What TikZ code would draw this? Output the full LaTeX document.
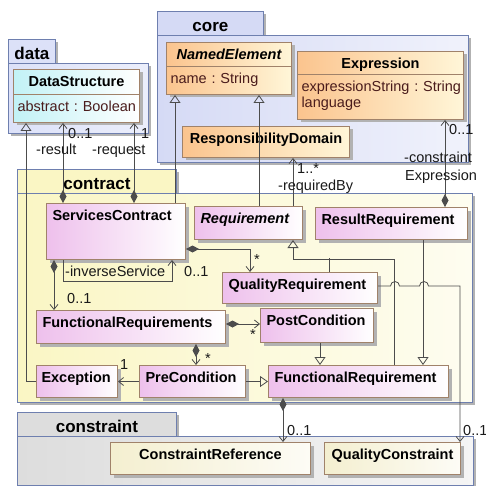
\documentclass[tikz,border=0pt]{standalone}
\usepackage{fontspec}
\setmainfont{Liberation Sans}
\usetikzlibrary{arrows.meta}
\usetikzlibrary{shadows}
\newcommand*{\umlfont}{\fontsize{14.5}{16}\selectfont}
\newcommand*{\pkgfont}{\fontsize{17}{20}\selectfont\bfseries}

\definecolor{pkgline}{HTML}{6E7FAF}
\definecolor{clsline}{HTML}{A0826A}
\definecolor{wire}{HTML}{4C4C4C}
\definecolor{datafill}{HTML}{DCE1F8}
\definecolor{corefill}{HTML}{D5DAF5}
\definecolor{ctrfill}{HTML}{FAF6C4}
\definecolor{cstfill}{HTML}{DDDDDD}
\definecolor{clspink}{HTML}{EEC0EC}
\definecolor{clsorange}{HTML}{FBC48E}
\definecolor{clsorangeend}{HTML}{FFF6D8}
\definecolor{clscyan}{HTML}{C2F2F6}
\definecolor{clscream}{HTML}{F4EFD0}
\definecolor{attrtext}{HTML}{4A1C1C}

\begin{document}
\begin{tikzpicture}[x=1pt,y=-1pt]
\tikzset{boxshadow/.style={drop shadow={shadow xshift=3pt,shadow yshift=-3pt,fill=black!30,opacity=1}},
  pkgtab/.style={draw=pkgline,line width=0.8pt,anchor=north west,inner sep=0pt,text height=20pt,text depth=4pt,font=\pkgfont,boxshadow},
  pkgbody/.style={draw=pkgline,line width=0.8pt,anchor=north west,inner sep=0pt,boxshadow},
  cls/.style={draw=clsline,line width=1pt,anchor=north west,inner xsep=6pt,inner ysep=0pt,text height=17pt,font=\umlfont\bfseries,boxshadow},
  ctrcls/.style={cls,left color=clspink,right color=white,align=left},
  corecls/.style={cls,left color=clsorange,right color=clsorangeend,align=center},
  coreattr/.style={corecls,inner xsep=4pt,font=\umlfont,text=attrtext,align=left},
  datacls/.style={cls,left color=clscyan,right color=white,align=center},
  dataattr/.style={datacls,inner xsep=4pt,font=\umlfont,text=attrtext,align=left},
  cstcls/.style={cls,left color=clscream,right color=clscream!20!white,align=center},
  wire/.style={draw=wire,line width=0.8pt},
  assoc/.style={wire,-{Straight Barb[length=5pt,width=8pt]}},
  gen/.style={wire,-{Triangle[open,length=8pt,width=11pt]}},
  comp/.style={wire,{Diamond[length=13pt,width=7pt]}-{Straight Barb[length=5pt,width=8pt]}},
  lbl/.style={anchor=base west,inner sep=0pt,font=\umlfont,text=black!90}}

\useasboundingbox (0,0) rectangle (486,486);

% packages
\node[pkgtab,fill=datafill,minimum width=47pt] (datatab) at (8,39) {data};
\node[pkgbody,left color=datafill,right color=datafill!55!white,minimum width=140pt,minimum height=70pt] (data) at (8,63) {};
\node[pkgtab,fill=corefill,minimum width=106pt] (coretab) at (157,11) {core};
\node[pkgbody,left color=corefill,right color=corefill!35!white,minimum width=311pt,minimum height=127pt] (core) at (157,35) {};
\node[pkgtab,fill=ctrfill,minimum width=159pt] (ctrtab) at (17,169) {contract};
\node[pkgbody,left color=ctrfill,right color=ctrfill!25!white,minimum width=455pt,minimum height=209pt] (contract) at (17,193) {};
\node[pkgtab,fill=cstfill,minimum width=159pt] (csttab) at (17,412) {constraint};
\node[pkgbody,left color=cstfill,right color=cstfill!30!white,minimum width=456pt,minimum height=49pt] (constraint) at (17,436) {};

% data and core classes
\node[datacls,text width=114pt,text depth=8pt] (ds) at (13,69) {DataStructure};
\node[dataattr,text width=118pt,text depth=11pt] (dsattr) at (13,94) {abstract~:~Boolean};
\node[corecls,text width=113pt,text depth=7pt,font=\umlfont\bfseries\itshape] (ne) at (166,42) {NamedElement};
\node[coreattr,text width=117pt,text depth=11pt] (neattr) at (166,66) {name~:~String};
\node[corecls,text width=154pt,text depth=6pt] (ex) at (297,51) {Expression};
\node[coreattr,text width=158pt,text depth=28pt] (exattr) at (297,74) {expressionString~:~String\\language};
\node[corecls,text width=155pt,text depth=14pt] (rd) at (182,126) {ResponsibilityDomain};

% contract classes
\node[ctrcls,text width=127pt,text depth=39pt] (sc) at (46,203) {ServicesContract};
\node[ctrcls,text width=96pt,text depth=16pt,font=\umlfont\bfseries\itshape] (req) at (194,206) {Requirement};
\node[ctrcls,text width=140pt,text depth=15pt] (rr) at (315,207) {ResultRequirement};
\node[ctrcls,text width=143pt,text depth=14pt] (qr) at (222,272) {QualityRequirement};
\node[ctrcls,text width=177pt,text depth=16pt] (frs) at (36,310) {FunctionalRequirements};
\node[ctrcls,text width=101pt,text depth=17pt] (pc) at (260,308) {PostCondition};
\node[ctrcls,inner xsep=5pt,text width=71pt,text depth=15pt] (exc) at (36,365) {Exception};
\node[ctrcls,text width=94pt,text depth=15pt] (prc) at (139,365) {PreCondition};
\node[ctrcls,text width=168pt,text depth=15pt] (fr) at (268,365) {FunctionalRequirement};

% constraint classes
\node[cstcls,text width=188pt,text depth=15pt] (cr) at (110,442) {ConstraintReference};
\node[cstcls,text width=124pt,text depth=15pt] (qc) at (324,442) {QualityConstraint};

% relations
\draw[gen] (exc.west) -| ([xshift=13pt]dsattr.south west);
\draw[comp] ([xshift=17pt]sc.north west) -- ([xshift=50pt]dsattr.south west);
\draw[comp] ([xshift=88pt]sc.north west) -- ([xshift=121pt]dsattr.south west);
\draw[gen] ([xshift=129pt]sc.north west) -- ([xshift=9pt]neattr.south west);
\draw[gen] ([xshift=65pt]req.north west) -- ([xshift=93pt]neattr.south west);
\draw[assoc] ([xshift=99pt]req.north west) -- ([xshift=111pt]rd.south west);
\draw[comp] ([xshift=130pt]rr.north west) -- ([xshift=148pt]exattr.south west);
\draw[assoc] ([xshift=17pt]sc.south west) -- ++(0,21) -| ([xshift=126pt]sc.south west);
\draw[comp] ([xshift=8pt]sc.south west) -- ([xshift=18pt]frs.north west);
\draw[comp] ([yshift=-46pt]sc.north east) -| ([xshift=28pt]qr.north west);
\draw[comp] ([yshift=3pt]frs.east) -- ([yshift=3pt]frs.east -| pc.west);
\draw[comp] ([xshift=160pt]frs.south west) -- ([xshift=57pt]prc.north west);
\draw[assoc] (prc.west) -- (exc.east);
\draw[gen] (prc.east) -- (fr.west);
\draw[gen] ([xshift=60pt]pc.south west) -- ([xshift=52pt]fr.north west);
\draw[gen] ([xshift=108pt]rr.south west) -- ([xshift=155pt]fr.north west);
\draw[gen] ([xshift=126pt]fr.north west) |- ([xshift=99pt,yshift=-19pt]req.south west) -- ([xshift=99pt]req.south west);
\draw[wire] ([xshift=107pt]qr.north west) -- ++(0,-14);
\draw[assoc] ([yshift=2pt]qr.east) -- ++(12.5,0) arc (180:360:4.5) -- ++(20,0) arc (180:360:4.5) -| ([xshift=136pt]qc.north west);
\draw[comp] ([xshift=15pt]fr.south west) -- ([xshift=173pt]cr.north west);

% role names and multiplicities
\node[lbl] (dsres-m) at (68,139) {0..1};
\node[lbl] (dsres-r) at (36,155) {-result};
\node[lbl] (dsreq-m) at (141,139) {1};
\node[lbl] (dsreq-r) at (92,155) {-request};
\node[lbl] (rd-m) at (297,174) {1..*};
\node[lbl] (rd-r) at (278,190) {-requiredBy};
\node[lbl] (ex-m) at (449,135) {0..1};
\node[lbl] (ex-r) at (404,163) {-constraint};
\node[lbl] (ex-r2) at (405,181) {Expression};
\node[lbl] (inv-r) at (65,276) {-inverseService};
\node[lbl] (inv-m) at (184,276) {0..1};
\node[lbl] (frs-m) at (67,303) {0..1};
\node[lbl] (qr-m) at (254,264) {*};
\node[lbl] (pc-m) at (250,339) {*};
\node[lbl] (prc-m) at (205,363) {*};
\node[lbl] (exc-m) at (120,369) {1};
\node[lbl] (cr-m) at (287,435) {0..1};
\node[lbl] (qc-m) at (463,435) {0..1};
\end{tikzpicture}
\end{document}
